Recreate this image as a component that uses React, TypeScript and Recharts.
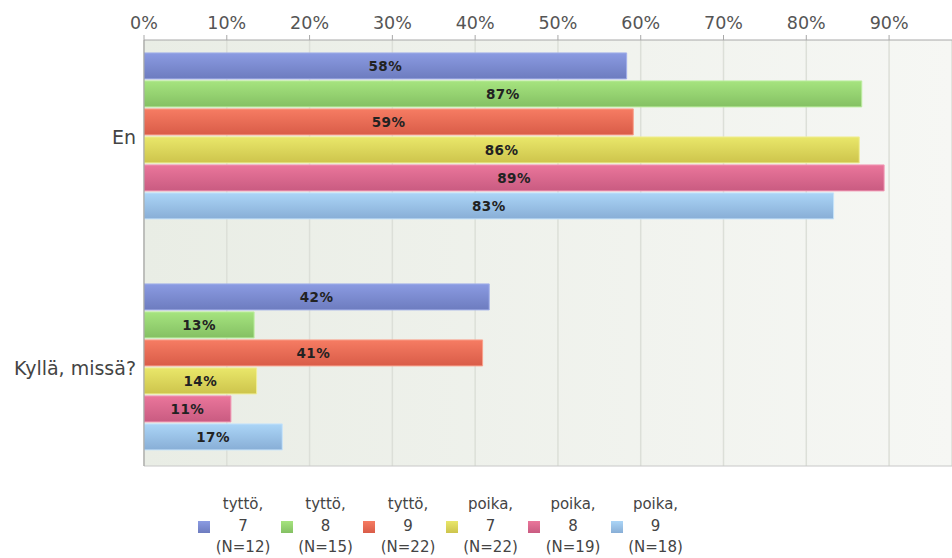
import { BarChart, Bar, XAxis, YAxis, CartesianGrid, LabelList } from "recharts";

// answer categories (y axis)
const categories = ["En", "Kyllä, missä?"];

// share of each group, percent
const tytto7 = [58.3, 41.7];
const tytto8 = [86.7, 13.3];
const tytto9 = [59.1, 40.9];
const poika7 = [86.4, 13.6];
const poika8 = [89.4, 10.5];
const poika9 = [83.3, 16.7];

const xTicks = [0, 10, 20, 30, 40, 50, 60, 70, 80, 90];

const seriesKeys = ["t7", "t8", "t9", "p7", "p8", "p9"];
const seriesValues = [tytto7, tytto8, tytto9, poika7, poika8, poika9];
const legendLabels = [
  ["tyttö,", "7", "(N=12)"],
  ["tyttö,", "8", "(N=15)"],
  ["tyttö,", "9", "(N=22)"],
  ["poika,", "7", "(N=22)"],
  ["poika,", "8", "(N=19)"],
  ["poika,", "9", "(N=18)"],
];

// [top, bottom, border]
const COLORS = [
  ["#8b9be2", "#6d7cbf", "#a3b0ea"],
  ["#a6e47f", "#84c063", "#bdeea0"],
  ["#f67c63", "#d95c48", "#f9a08c"],
  ["#e9e76a", "#cdc44c", "#f0ee98"],
  ["#ea769b", "#c95b81", "#f29ab6"],
  ["#abd5f7", "#88aed6", "#c6e3fa"],
];

const FONT = "'DejaVu Sans', Verdana, sans-serif";

const rows = categories.map((c, i) => {
  const row: Record<string, string | number> = { category: c };
  seriesKeys.forEach((k, j) => {
    row[k] = seriesValues[j][i];
  });
  return row;
});

export default function App() {
  return (
    <div style={{ position: "relative", width: 952, height: 558, fontFamily: FONT }}>
      <style>{"body{margin:0}"}</style>
      <BarChart
        width={952}
        height={558}
        data={rows}
        layout="vertical"
        margin={{ top: 0, right: 0, bottom: 92, left: 0 }}
        barCategoryGap="13.6%"
        barGap={2}
      >
        <defs>
          <linearGradient id="bgGrad" x1="0" y1="0" x2="1" y2="0">
            <stop offset="0%" stopColor="#e9ede5" />
            <stop offset="100%" stopColor="#f6f7f4" />
          </linearGradient>
          {COLORS.map((c, i) => (
            <linearGradient key={i} id={`barGrad${i}`} x1="0" y1="0" x2="0" y2="1">
              <stop offset="0%" stopColor={c[0]} />
              <stop offset="100%" stopColor={c[1]} />
            </linearGradient>
          ))}
        </defs>
        <CartesianGrid
          horizontal={false}
          stroke="#dcdfd8"
          strokeWidth={1.5}
          fill="url(#bgGrad)"
          fillOpacity={1}
        />
        <CartesianGrid
          vertical={false}
          stroke="#c8c8c8"
          horizontalCoordinatesGenerator={(p: any) =>
            p && p.offset ? [p.offset.top + p.offset.height] : []
          }
        />
        <XAxis
          type="number"
          orientation="top"
          domain={[0, 97.6]}
          ticks={xTicks}
          allowDataOverflow
          height={40}
          tickSize={5}
          tickMargin={6}
          tickFormatter={(v: number) => `${v}%`}
          tick={{ fontSize: 17.5, fill: "#555", fontFamily: FONT }}
          axisLine={{ stroke: "#a8a8a8" }}
          tickLine={{ stroke: "#a8a8a8" }}
        />
        <YAxis
          type="category"
          dataKey="category"
          width={144}
          padding={{ top: -18.5, bottom: -17.5 }}
          tickLine={false}
          tickSize={0}
          tickMargin={8}
          tick={{ fontSize: 19, fill: "#444", fontFamily: FONT }}
          axisLine={{ stroke: "#999" }}
        />
        {seriesKeys.map((k, i) => (
          <Bar
            key={k}
            dataKey={k}
            fill={`url(#barGrad${i})`}
            stroke={COLORS[i][2]}
            strokeWidth={1}
            isAnimationActive={false}
          >
            <LabelList
              dataKey={k}
              position="center"
              formatter={(v: any) => `${Math.round(Number(v))}%`}
              style={{
                fontSize: 13.5,
                fontWeight: "bold",
                fill: "#222",
                fontFamily: FONT,
                letterSpacing: 0.5,
              }}
            />
          </Bar>
        ))}
      </BarChart>

      <div style={{ position: "absolute", left: 198, top: 494, display: "flex" }}>
        {legendLabels.map((lines, i) => (
          <div key={i} style={{ position: "relative", width: 82.5, height: 64 }}>
            <div
              style={{
                position: "absolute",
                left: 0,
                top: 27,
                width: 12,
                height: 12,
                background: `linear-gradient(${COLORS[i][0]}, ${COLORS[i][1]})`,
              }}
            />
            <div
              style={{
                position: "absolute",
                left: 5,
                width: 80,
                textAlign: "center",
                fontSize: 15,
                lineHeight: "21.5px",
                color: "#444",
              }}
            >
              {lines.map((l, j) => (
                <div key={j}>{l}</div>
              ))}
            </div>
          </div>
        ))}
      </div>
    </div>
  );
}
